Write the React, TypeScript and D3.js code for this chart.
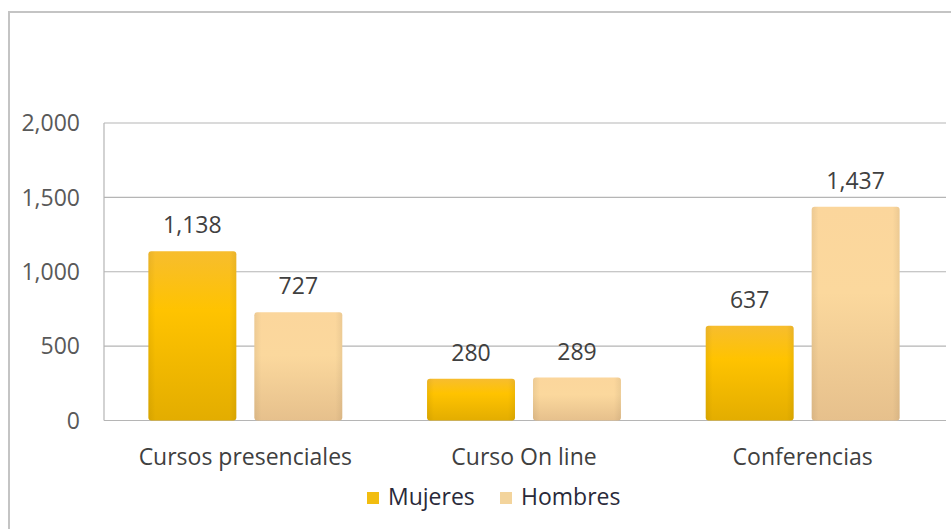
import React from "react";
import * as d3 from "d3";

const categories = ["Cursos presenciales", "Curso On line", "Conferencias"];
const seriesNames = ["Mujeres", "Hombres"];
const mujeres = [1138, 280, 637];
const hombres = [727, 289, 1437];
const yTicks = [0, 500, 1000, 1500, 2000];

const W = 951;
const H = 529;
const FONT = "'Open Sans', 'DejaVu Sans', sans-serif";

export default function App() {
  const x = d3.scaleBand<string>().domain(categories).range([106, 942]).paddingInner(0).paddingOuter(0);
  const inner = d3.scaleBand<string>().domain(seriesNames).range([0, x.bandwidth()]).paddingInner(0.17).paddingOuter(0.4);
  const y = d3.scaleLinear().domain([0, 2000]).range([420.5, 123]);
  const fmt = d3.format(",");
  const values = [mujeres, hombres];
  const fills = ["url(#gM)", "url(#gH)"];
  const legendColors = ["#f2bd10", "#f3d49c"];

  return (
    <svg width={W} height={H} style={{ position: "absolute", left: 0, top: 0, background: "#fff" }}>
      <defs>
        <linearGradient id="gM" x1="0" y1="0" x2="0" y2="1">
          <stop offset="0" stopColor="#f7bd2e" />
          <stop offset="0.35" stopColor="#ffc300" />
          <stop offset="1" stopColor="#e3ad00" />
        </linearGradient>
        <linearGradient id="gH" x1="0" y1="0" x2="0" y2="1">
          <stop offset="0" stopColor="#fbd69c" />
          <stop offset="0.4" stopColor="#fbd89d" />
          <stop offset="1" stopColor="#e6c08c" />
        </linearGradient>
        <linearGradient id="edge" x1="0" y1="0" x2="1" y2="0">
          <stop offset="0" stopColor="#000" stopOpacity="0.06" />
          <stop offset="0.08" stopColor="#000" stopOpacity="0" />
          <stop offset="0.92" stopColor="#000" stopOpacity="0" />
          <stop offset="1" stopColor="#000" stopOpacity="0.06" />
        </linearGradient>
      </defs>
      <rect x={9} y={12} width={960} height={540} fill="none" stroke="#c4c4c4" strokeWidth={2} />
      {yTicks.map((t) => (
        <g key={t}>
          <line x1={104} x2={946} y1={y(t)} y2={y(t)} stroke="#b5b5b5" strokeWidth={1.2} />
          <text x={80} y={y(t)} dy="0.36em" textAnchor="end" fontFamily={FONT} fontSize={23} fill="#595959">
            {fmt(t)}
          </text>
        </g>
      ))}
      <line x1={104} x2={104} y1={y(2000)} y2={y(0)} stroke="#b5b5b5" strokeWidth={1.2} />
      {categories.map((c, i) => (
        <g key={c} transform={`translate(${x(c)},0)`}>
          {seriesNames.map((s, j) => {
            const v = values[j][i];
            const bx = inner(s)!;
            const bw = inner.bandwidth();
            return (
              <g key={s}>
                <rect x={bx} y={y(v)} width={bw} height={y(0) - y(v)} rx={3} fill={fills[j]} />
                <rect x={bx} y={y(v)} width={bw} height={y(0) - y(v)} rx={3} fill="url(#edge)" />
                <text x={bx + bw / 2} y={y(v) - 18} textAnchor="middle" fontFamily={FONT} fontSize={23} fill="#404040">
                  {fmt(v)}
                </text>
              </g>
            );
          })}
          <text x={x.bandwidth() / 2} y={465} textAnchor="middle" fontFamily={FONT} fontSize={23} fill="#404040">
            {c}
          </text>
        </g>
      ))}
      {seriesNames.map((s, j) => {
        const lx = [367, 500][j];
        return (
          <g key={s}>
            <rect x={lx} y={492} width={12} height={12} fill={legendColors[j]} />
            <text x={lx + 21} y={505} fontFamily={FONT} fontSize={23} fill="#2a2a3a">
              {s}
            </text>
          </g>
        );
      })}
    </svg>
  );
}
